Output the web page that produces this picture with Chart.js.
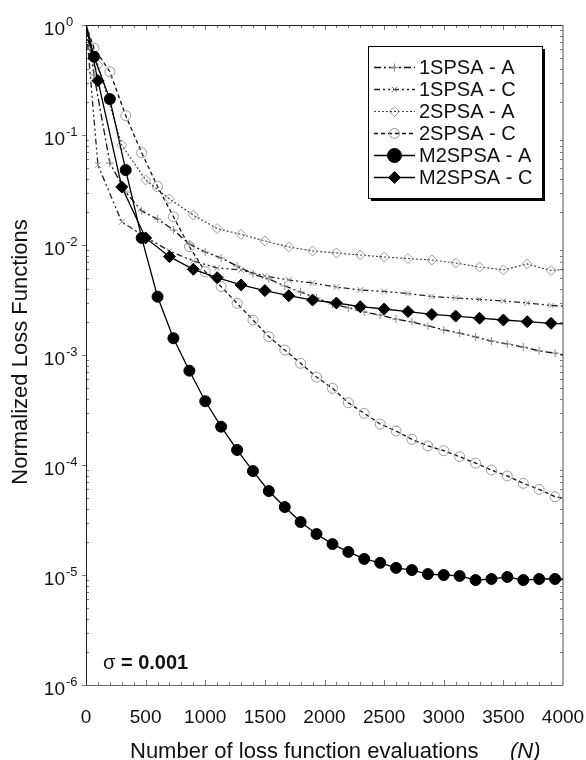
<!DOCTYPE html>
<html><head><meta charset="utf-8">
<script src="https://cdn.jsdelivr.net/npm/chart.js@4.4.1/dist/chart.umd.min.js"></script>
<style>html,body{margin:0;padding:0;background:#fff;}canvas{display:block;}</style>
</head><body>
<canvas id="c" width="586" height="760"></canvas>
<script>
// ---- data ----
const N_A = [0, 67, 200, 333, 467, 600, 733, 867, 1000, 1133, 1267, 1400, 1533, 1667, 1800, 1933, 2067, 2200, 2333, 2467, 2600, 2733, 2867, 3000, 3133, 3267, 3400, 3533, 3667, 3800, 3933, 4000];
const N_C = [0, 100, 300, 500, 700, 900, 1100, 1300, 1500, 1700, 1900, 2100, 2300, 2500, 2700, 2900, 3100, 3300, 3500, 3700, 3900, 4000];

const SPSA1_A = [1.0, 0.351, 0.0556, 0.0303, 0.0204, 0.0172, 0.0137, 0.0102, 8.64e-3, 7.62e-3, 6.44e-3, 5.45e-3, 4.91e-3, 4.24e-3, 3.74e-3, 3.30e-3, 2.91e-3, 2.68e-3, 2.46e-3, 2.31e-3, 2.12e-3, 2.0e-3, 1.84e-3, 1.69e-3, 1.58e-3, 1.46e-3, 1.34e-3, 1.26e-3, 1.18e-3, 1.09e-3, 1.04e-3, 1.0e-3];
const SPSA1_C = [1.0, 0.0534, 0.0162, 0.0118, 8.82e-3, 7.16e-3, 6.18e-3, 5.93e-3, 5.23e-3, 4.81e-3, 4.51e-3, 4.15e-3, 3.90e-3, 3.78e-3, 3.62e-3, 3.40e-3, 3.30e-3, 3.20e-3, 3.10e-3, 2.97e-3, 2.82e-3, 2.79e-3];
const SPSA2_A = [1.0, 0.433, 0.0811, 0.039, 0.0262, 0.0187, 0.0141, 0.0125, 0.0109, 9.6e-3, 8.82e-3, 8.46e-3, 8.11e-3, 7.78e-3, 7.54e-3, 7.31e-3, 6.86e-3, 6.31e-3, 5.93e-3, 6.72e-3, 5.86e-3, 6.0e-3];
const SPSA2_C = [1.0, 0.618, 0.376, 0.150, 0.069, 0.034, 0.0181, 9.65e-3, 5.72e-3, 4.19e-3, 2.95e-3, 2.08e-3, 1.47e-3, 1.11e-3, 8.4e-4, 6.3e-4, 4.98e-4, 3.68e-4, 2.95e-4, 2.36e-4, 2.04e-4, 1.71e-4, 1.49e-4, 1.35e-4, 1.19e-4, 1.04e-4, 9.0e-5, 7.95e-5, 6.82e-5, 6.01e-5, 5.15e-5, 5.0e-5];
const M2SPSA_A = [1.0, 0.515, 0.212, 0.048, 0.0116, 3.39e-3, 1.42e-3, 7.2e-4, 3.8e-4, 2.23e-4, 1.37e-4, 8.8e-5, 5.8e-5, 4.15e-5, 3.03e-5, 2.36e-5, 1.91e-5, 1.62e-5, 1.40e-5, 1.29e-5, 1.16e-5, 1.11e-5, 1.02e-5, 1.0e-5, 9.8e-6, 9.0e-6, 9.2e-6, 9.6e-6, 9.0e-6, 9.2e-6, 9.2e-6, 9.2e-6];
const M2SPSA_C = [1.0, 0.312, 0.0337, 0.0116, 7.83e-3, 6.01e-3, 5.05e-3, 4.33e-3, 3.85e-3, 3.46e-3, 3.16e-3, 2.97e-3, 2.75e-3, 2.62e-3, 2.48e-3, 2.34e-3, 2.26e-3, 2.16e-3, 2.08e-3, 2.01e-3, 1.94e-3, 1.92e-3];

const SERIES_NAMES = ['1SPSA - A', '1SPSA - C', '2SPSA - A', '2SPSA - C', 'M2SPSA - A', 'M2SPSA - C'];
const X_TICKS = [0, 500, 1000, 1500, 2000, 2500, 3000, 3500, 4000];
const Y_DECADES = [0, -1, -2, -3, -4, -5, -6];
const X_TITLE = 'Number of loss function evaluations';
const X_TITLE_VAR = '(N)';
const Y_TITLE = 'Normalized Loss Functions';
const NOTE_SYMBOL = 'σ';
const NOTE_VALUE = '= 0.001';

// ---- chart ----
const FONT = '"Liberation Sans", Arial, Helvetica, sans-serif';
const X_MIN = 0, X_MAX = 4000;
function pts(xs, ys) { return xs.map((x, i) => ({ x: x, y: ys[i] })); }
function rad(r) { return ctx => { const x = ctx.raw ? ctx.raw.x : null; return (x === X_MIN || x === X_MAX) ? 0 : r; }; }

const datasets = [
  { label: SERIES_NAMES[0], data: pts(N_A, SPSA1_A), borderColor: '#111', borderWidth: 1.3, borderDash: [7, 3, 2, 3],
    pointStyle: 'cross', pointRadius: rad(4), pointBorderColor: '#8a8a8a', pointBackgroundColor: 'rgba(0,0,0,0)', pointBorderWidth: 1, order: 2 },
  { label: SERIES_NAMES[1], data: pts(N_C, SPSA1_C), borderColor: '#222', borderWidth: 1.3, borderDash: [6, 3, 2, 3, 2, 3],
    pointStyle: 'crossRot', pointRadius: rad(4), pointBorderColor: '#8a8a8a', pointBackgroundColor: 'rgba(0,0,0,0)', pointBorderWidth: 1, order: 2 },
  { label: SERIES_NAMES[2], data: pts(N_C, SPSA2_A), borderColor: '#444', borderWidth: 1.2, borderDash: [2, 2],
    pointStyle: 'rectRot', pointRadius: rad(5), pointBorderColor: '#9a9a9a', pointBackgroundColor: 'rgba(0,0,0,0)', pointBorderWidth: 1, order: 2 },
  { label: SERIES_NAMES[3], data: pts(N_A, SPSA2_C), borderColor: '#111', borderWidth: 1.3, borderDash: [4, 3],
    pointStyle: 'circle', pointRadius: rad(5), pointBorderColor: '#9a9a9a', pointBackgroundColor: 'rgba(0,0,0,0)', pointBorderWidth: 1, order: 2 },
  { label: SERIES_NAMES[4], data: pts(N_A, M2SPSA_A), borderColor: '#000', borderWidth: 1.3, borderDash: [],
    pointStyle: 'circle', pointRadius: rad(5.5), pointBorderColor: '#000', pointBackgroundColor: '#000', pointBorderWidth: 1, order: 1 },
  { label: SERIES_NAMES[5], data: pts(N_C, M2SPSA_C), borderColor: '#000', borderWidth: 1.3, borderDash: [],
    pointStyle: 'rectRot', pointRadius: rad(6), pointBorderColor: '#000', pointBackgroundColor: '#000', pointBorderWidth: 1, order: 0 }
];

const framePlugin = {
  id: 'frame',
  beforeDatasetsDraw(chart) {
    const { ctx, chartArea: a, scales: { x, y } } = chart;
    ctx.save();
    ctx.strokeStyle = '#777'; ctx.lineWidth = 1;
    ctx.beginPath();
    for (let e = 0; e > -6; e--) {
      for (let m = 2; m <= 9; m++) {
        const py = Math.round(y.getPixelForValue(m * Math.pow(10, e - 1))) + 0.5;
        ctx.moveTo(a.left, py); ctx.lineTo(a.left + 3, py);
        ctx.moveTo(a.right, py); ctx.lineTo(a.right - 3, py);
      }
    }
    for (let v = 100; v < X_MAX; v += 100) {
      const px = Math.round(x.getPixelForValue(v)) + 0.5;
      const len = (v % 500 === 0) ? 5 : 3;
      ctx.moveTo(px, a.top); ctx.lineTo(px, a.top + len);
      ctx.moveTo(px, a.bottom); ctx.lineTo(px, a.bottom - len);
    }
    Y_DECADES.forEach(e => {
      const py = Math.round(y.getPixelForValue(Math.pow(10, e))) + 0.5;
      ctx.moveTo(a.left - 4, py); ctx.lineTo(a.left, py);
    });
    ctx.stroke();
    ctx.lineWidth = 1;
    ctx.strokeStyle = '#222';
    ctx.beginPath();
    ctx.moveTo(a.left + 0.5, a.bottom); ctx.lineTo(a.left + 0.5, a.top + 0.5); ctx.lineTo(a.right, a.top + 0.5);
    ctx.stroke();
    ctx.strokeStyle = '#888';
    ctx.lineWidth = 1.5;
    ctx.beginPath();
    ctx.moveTo(a.right, a.top); ctx.lineTo(a.right, a.bottom);
    ctx.stroke();
    ctx.lineWidth = 1;
    ctx.strokeStyle = '#666';
    ctx.beginPath();
    ctx.moveTo(a.left, a.bottom + 0.5); ctx.lineTo(a.right, a.bottom + 0.5);
    ctx.stroke();
    ctx.restore();
  },
  afterDraw(chart) {
    const { ctx, scales: { y } } = chart;
    ctx.save();
    ctx.fillStyle = '#111';
    Y_DECADES.forEach(e => {
      const py = y.getPixelForValue(Math.pow(10, e));
      ctx.font = '19px ' + FONT; ctx.textAlign = 'right'; ctx.textBaseline = 'alphabetic';
      ctx.fillText('10', 65, py + 10);
      ctx.font = '13px ' + FONT; ctx.textAlign = 'left';
      ctx.fillText(String(e), 66, py + 1);
    });
    ctx.save();
    ctx.translate(21, 352); ctx.rotate(-Math.PI / 2);
    ctx.font = '22px ' + FONT; ctx.textAlign = 'center'; ctx.textBaseline = 'middle';
    ctx.fillText(Y_TITLE, 0, 0);
    ctx.restore();
    ctx.font = '22px ' + FONT; ctx.textAlign = 'left'; ctx.textBaseline = 'middle';
    ctx.fillText(X_TITLE, 130, 752);
    ctx.font = 'italic 22px ' + FONT;
    ctx.fillText(X_TITLE_VAR, 510, 752);
    ctx.font = '20px ' + FONT; ctx.textBaseline = 'alphabetic';
    ctx.fillText(NOTE_SYMBOL, 103, 669);
    const sw = ctx.measureText(NOTE_SYMBOL + ' ').width;
    ctx.font = 'bold 20px ' + FONT;
    ctx.fillText(NOTE_VALUE, 103 + sw, 669);
    // legend
    const bx = 368, by = 46, bw = 174, bh = 152;
    ctx.fillStyle = '#000';
    ctx.fillRect(bx + 3, by + 3, bw, bh);
    ctx.fillStyle = '#fff';
    ctx.fillRect(bx, by, bw, bh);
    ctx.strokeStyle = '#000'; ctx.lineWidth = 1;
    ctx.strokeRect(bx + 0.5, by + 0.5, bw, bh);
    chart.data.datasets.forEach((ds, i) => {
      const cy = 67 + i * 22;
      ctx.save();
      ctx.strokeStyle = ds.borderColor; ctx.lineWidth = ds.borderWidth;
      ctx.setLineDash(ds.borderDash || []);
      ctx.beginPath(); ctx.moveTo(374, cy + 0.5); ctx.lineTo(415, cy + 0.5); ctx.stroke();
      ctx.setLineDash([]);
      ctx.strokeStyle = ds.pointBorderColor; ctx.fillStyle = ds.pointBackgroundColor;
      ctx.lineWidth = ds.pointBorderWidth;
      const r = i === 4 ? 7 : (i === 5 ? 6 : (i < 2 ? 4 : 5));
      Chart.helpers.drawPoint(ctx, { pointStyle: ds.pointStyle, rotation: 0, radius: r, borderWidth: ds.pointBorderWidth }, 394.5, cy + 0.5);
      ctx.restore();
      ctx.fillStyle = '#111';
      ctx.font = '20px ' + FONT; ctx.textAlign = 'left'; ctx.textBaseline = 'middle';
      ctx.fillText(ds.label, 419, cy + 1);
    });
    ctx.restore();
  }
};

new Chart(document.getElementById('c'), {
  type: 'line',
  data: { datasets: datasets },
  options: {
    responsive: false, animation: false, devicePixelRatio: 1,
    layout: { padding: { top: 25, right: 23, left: 0, bottom: 0 } },
    elements: { line: { tension: 0, fill: false } },
    plugins: { legend: { display: false }, tooltip: { enabled: false } },
    scales: {
      x: {
        type: 'linear', min: X_MIN, max: X_MAX,
        afterBuildTicks: s => { s.ticks = X_TICKS.map(v => ({ value: v })); },
        afterFit: s => { s.height = 75; s.paddingRight = 0; s.paddingLeft = 0; },
        grid: { display: false, drawTicks: false }, border: { display: false },
        ticks: { autoSkip: false, maxRotation: 0, padding: 21, color: '#111', font: { size: 19, family: FONT },
                 callback: v => String(v) }
      },
      y: {
        type: 'logarithmic', min: 1e-6, max: 1,
        afterFit: s => { s.width = 86; },
        grid: { display: false, drawTicks: false }, border: { display: false },
        ticks: { display: false }
      }
    }
  },
  plugins: [framePlugin]
});
</script>
</body></html>
